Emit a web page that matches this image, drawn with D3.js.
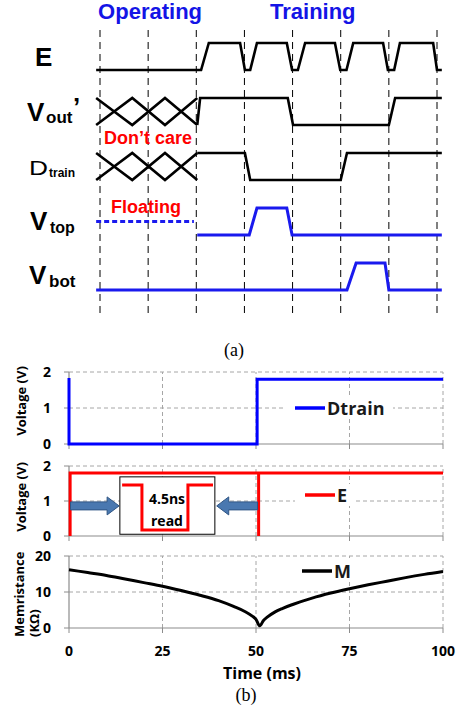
<!DOCTYPE html>
<html>
<head>
<meta charset="utf-8">
<script src="https://cdn.jsdelivr.net/npm/d3@7"></script>
<style>
  body { margin: 0; background: #fff; }
</style>
</head>
<body>
<script>
// ---------- (a) timing diagram data ----------
// time in clock periods (dashed guides sit on whole periods), level 0 = low, 1 = high
const clockEdges = [0, 1, 2, 3, 4, 5, 6, 7]
const phaseNames = ['Operating', 'Training']
const phaseCenters = [1.04, 4.42]

const waveE = [[-0.08, 0], [2.1, 0], [2.26, 1], [2.91, 1], [3.01, 0], [3.12, 0], [3.26, 1], [3.88, 1],
  [3.99, 0], [4.11, 0], [4.26, 1], [4.88, 1], [4.99, 0], [5.12, 0], [5.26, 1], [5.88, 1],
  [5.98, 0], [6.11, 0], [6.23, 1], [6.92, 1], [7.0, 0], [7.1, 0]]

// "don't care" crossings
const crossA = [[-0.08, 1], [0.67, 0], [1.35, 1], [2.02, 0]]
const crossB = [[-0.08, 0], [0.67, 1], [1.35, 0], [2.02, 1]]

const waveVout = [[2.02, 0], [2.08, 1], [3.9, 1], [4.01, 0], [6.0, 0], [6.13, 1], [7.1, 1]]
const waveDtrain = [[2.02, 1], [3.01, 1], [3.12, 0], [5.0, 0], [5.13, 1], [7.1, 1]]
const vtopFloating = [[-0.08, 0.5], [1.95, 0.5]]
const waveVtop = [[2.02, 0], [3.1, 0], [3.26, 1], [3.88, 1], [3.99, 0], [7.1, 0]]
const waveVbot = [[-0.08, 0], [5.13, 0], [5.32, 1], [5.92, 1], [6.0, 0], [7.1, 0]]

// ---------- (b) simulation data ----------
const timeTicks = [0, 25, 50, 75, 100]
const voltTicks = [0, 1, 2]
const memTicks = [0, 10, 20]

const dtrainT = [0, 0, 50.3, 50.3, 100]
const dtrainV = [1.83, 0, 0, 1.8, 1.8]

const eT = [0.3, 0.3, 50.7, 50.7, 50.7, 100]
const eV = [0, 1.8, 1.8, 0, 1.8, 1.8]

// zoomed read pulse drawn inside the inset box
const readT = [14.2, 19.5, 19.5, 31.8, 31.8, 38.5]
const readV = [1.46, 1.46, 0.17, 0.17, 1.46, 1.46]

const memT = [0, 5, 10, 15, 20, 25, 30, 35, 40, 44, 47, 49, 50, 51, 52, 53, 55, 57, 60, 65, 70, 75, 80, 85, 90, 95, 100]
const memV = [16.2, 15.4, 14.6, 13.6, 12.6, 11.6, 10.4, 9.1, 7.6, 6.0, 4.6, 3.3, 2.4, 0.6, 2.1, 3.0, 4.4, 5.4, 6.6, 8.3, 9.7, 10.9, 12.0, 13.0, 14.0, 14.9, 15.7]

const W = 460, H = 712
const svg = d3.select('body').append('svg')
  .attr('width', W).attr('height', H)
  .style('display', 'block')

svg.append('rect').attr('width', W).attr('height', H).attr('fill', '#fff')

const arial = 'Liberation Sans, Arial, sans-serif'
const calibri = 'Open Sans, Liberation Sans, sans-serif'

// ================= (a) =================
const tx = d3.scaleLinear().domain([0, 7]).range([100, 437])
const rowLow = [70, 125, 180, 235, 290]
const amp = 27
const rowY = i => d3.scaleLinear().domain([0, 1]).range([rowLow[i], rowLow[i] - amp])

// dashed clock guides
svg.append('g').selectAll('line')
  .data(clockEdges)
  .join('line')
  .attr('x1', d => tx(d)).attr('x2', d => tx(d))
  .attr('y1', 30).attr('y2', 318)
  .attr('stroke', '#000')
  .attr('stroke-width', 1)
  .attr('stroke-dasharray', '7,5')

// phase titles
svg.append('g').selectAll('text')
  .data(phaseNames)
  .join('text')
  .attr('x', (d, i) => tx(phaseCenters[i]))
  .attr('y', 19)
  .attr('text-anchor', 'middle')
  .attr('font-family', arial)
  .attr('font-weight', 'bold')
  .attr('font-size', '22px')
  .attr('fill', '#1414e6')
  .text(d => d)

function wave(data, row, color, width, dash) {
  const y = rowY(row)
  const line = d3.line().x(d => tx(d[0])).y(d => y(d[1]))
  svg.append('path')
    .datum(data)
    .attr('d', line)
    .attr('fill', 'none')
    .attr('stroke', color)
    .attr('stroke-width', width)
    .attr('stroke-linejoin', 'miter')
    .attr('stroke-dasharray', dash || null)
}

wave(waveE, 0, '#000', 2.6)
wave(crossA, 1, '#000', 2.6)
wave(crossB, 1, '#000', 2.6)
wave(waveVout, 1, '#000', 2.6)
wave(crossA, 2, '#000', 2.6)
wave(crossB, 2, '#000', 2.6)
wave(waveDtrain, 2, '#000', 2.6)
wave(vtopFloating, 3, '#1a1aee', 3, '5,3')
wave(waveVtop, 3, '#1a1aee', 3)
wave(waveVbot, 4, '#1a1aee', 3)

// signal labels
const lab = svg.append('g').attr('font-family', arial).attr('fill', '#000')
lab.append('text').attr('x', 35).attr('y', 66).attr('font-size', '26px').attr('font-weight', 'bold').text('E')

lab.append('text').attr('x', 27).attr('y', 121).attr('font-size', '26px').attr('font-weight', 'bold').text('V')
lab.append('text').attr('x', 46).attr('y', 123).attr('font-size', '17px').attr('font-weight', 'bold').text('out')
lab.append('text').attr('x', 73).attr('y', 116).attr('font-size', '26px').attr('font-weight', 'bold').text('\u2019')

lab.append('text').attr('x', 29).attr('y', 175).attr('font-size', '20px')
  .attr('textLength', 19).attr('lengthAdjust', 'spacingAndGlyphs').text('D')
lab.append('text').attr('x', 49).attr('y', 177).attr('font-size', '12px').attr('font-weight', 'bold').text('train')

lab.append('text').attr('x', 30).attr('y', 230).attr('font-size', '26px').attr('font-weight', 'bold').text('V')
lab.append('text').attr('x', 50).attr('y', 233).attr('font-size', '16px').attr('font-weight', 'bold').text('top')

lab.append('text').attr('x', 29).attr('y', 284).attr('font-size', '26px').attr('font-weight', 'bold').text('V')
lab.append('text').attr('x', 49).attr('y', 287).attr('font-size', '17px').attr('font-weight', 'bold').text('bot')

// red annotations
svg.append('text').attr('x', 148).attr('y', 144).attr('text-anchor', 'middle')
  .attr('font-family', arial).attr('font-weight', 'bold').attr('font-size', '18px')
  .attr('fill', '#ff0000').text('Don\u2019t care')
svg.append('text').attr('x', 146).attr('y', 213).attr('text-anchor', 'middle')
  .attr('font-family', arial).attr('font-weight', 'bold').attr('font-size', '18px')
  .attr('fill', '#ff0000').text('Floating')

svg.append('text').attr('x', 234).attr('y', 356).attr('text-anchor', 'middle')
  .attr('font-family', 'Liberation Serif, Times New Roman, serif').attr('font-size', '18px')
  .text('(a)')

// ================= (b) =================
const x = d3.scaleLinear().domain([0, 100]).range([69, 443])
const y1 = d3.scaleLinear().domain([0, 2]).range([444, 372])
const y2 = d3.scaleLinear().domain([0, 2]).range([536, 466])
const y3 = d3.scaleLinear().domain([0, 20]).range([628, 556])

function panel(y, ticks) {
  const g = svg.append('g')
  const top = d3.max(ticks)
  // dashed grid
  g.selectAll('.hg').data(ticks.filter(d => d > 0)).join('line')
    .attr('x1', x(0)).attr('x2', x(100))
    .attr('y1', d => y(d)).attr('y2', d => y(d))
    .attr('stroke', '#a6a6a6').attr('stroke-dasharray', '4,3')
  g.selectAll('.vg').data(timeTicks.filter(d => d > 0)).join('line')
    .attr('x1', d => x(d)).attr('x2', d => x(d))
    .attr('y1', y(0)).attr('y2', y(top))
    .attr('stroke', '#a6a6a6').attr('stroke-dasharray', '4,3')
  // axes
  g.append('line').attr('x1', x(0)).attr('x2', x(100)).attr('y1', y(0)).attr('y2', y(0))
    .attr('stroke', '#8c8c8c').attr('stroke-width', 1.2)
  g.append('line').attr('x1', x(0)).attr('x2', x(0)).attr('y1', y(0)).attr('y2', y(top))
    .attr('stroke', '#8c8c8c').attr('stroke-width', 1.2)
  g.selectAll('.yt').data(ticks).join('line')
    .attr('x1', x(0) - 5).attr('x2', x(0))
    .attr('y1', d => y(d)).attr('y2', d => y(d))
    .attr('stroke', '#8c8c8c')
  g.selectAll('.xt').data(timeTicks).join('line')
    .attr('x1', d => x(d)).attr('x2', d => x(d))
    .attr('y1', y(0)).attr('y2', y(0) + 5)
    .attr('stroke', '#8c8c8c')
  g.selectAll('.yl').data(ticks).join('text')
    .attr('x', 51).attr('y', d => y(d) + 5)
    .attr('text-anchor', 'end')
    .attr('font-family', calibri).attr('font-weight', 'bold').attr('font-size', '14px')
    .text(d => d)
  return g
}

function series(ts, vs, y, color) {
  const pts = ts.map((t, i) => [t, vs[i]])
  svg.append('path').datum(pts)
    .attr('d', d3.line().x(d => x(d[0])).y(d => y(d[1])))
    .attr('fill', 'none').attr('stroke', color).attr('stroke-width', 3)
}

function legend(cx0, cy, label, color, boxW) {
  svg.append('rect').attr('x', cx0 - 10).attr('y', cy - 11).attr('width', boxW).attr('height', 22).attr('fill', '#fff')
  svg.append('line').attr('x1', cx0).attr('x2', cx0 + 30).attr('y1', cy).attr('y2', cy)
    .attr('stroke', color).attr('stroke-width', 3.5)
  svg.append('text').attr('x', cx0 + 32).attr('y', cy + 6.5)
    .attr('font-family', calibri).attr('font-weight', 'bold').attr('font-size', '18px')
    .attr('fill', '#1a1a1a').text(label)
}

function yTitle(lines, cx, cy, anchor) {
  const t = svg.append('text')
    .attr('transform', `translate(${cx},${cy}) rotate(-90)`)
    .attr('text-anchor', anchor)
    .attr('font-family', calibri).attr('font-weight', 'bold').attr('font-size', '13px')
  lines.forEach((l, i) => t.append('tspan').attr('x', 0).attr('dy', i === 0 ? 0 : 15).text(l))
}

// panel 1: Dtrain
panel(y1, voltTicks)
legend(295, y1(1), 'Dtrain', '#0000ff', 108)
series(dtrainT, dtrainV, y1, '#0000ff')
yTitle(['Voltage (V)'], 26, 401, 'middle')

// panel 2: E
panel(y2, voltTicks)
legend(305, y2(1) - 6, 'E', '#ff0000', 58)
series(eT, eV, y2, '#ff0000')
yTitle(['Voltage (V)'], 26, 497, 'middle')

// inset with the zoomed read pulse
svg.append('rect')
  .attr('x', x(13.6)).attr('y', y2(1.69))
  .attr('width', x(39) - x(13.6)).attr('height', y2(0.05) - y2(1.69))
  .attr('fill', '#fff').attr('stroke', '#000').attr('stroke-width', 1)
series(readT, readV, y2, '#ff0000')
svg.append('text').attr('x', x(26.2)).attr('y', y2(1.09) + 6).attr('text-anchor', 'middle')
  .attr('font-family', calibri).attr('font-weight', 'bold').attr('font-size', '14px').text('4.5ns')
svg.append('text').attr('x', x(26.2)).attr('y', y2(0.46) + 6).attr('text-anchor', 'middle')
  .attr('font-family', calibri).attr('font-weight', 'bold').attr('font-size', '14px').text('read')

// block arrows pointing at the inset
function blockArrow(fromT, toT, v) {
  const x0 = x(fromT), x1 = x(toT), yc = y2(v)
  const dir = Math.sign(x1 - x0)
  const hb = x1 - dir * 12
  const pts = [[x0, yc - 4], [hb, yc - 4], [hb, yc - 9], [x1, yc], [hb, yc + 9], [hb, yc + 4], [x0, yc + 4]]
  svg.append('polygon').attr('points', pts.map(p => p.join(',')).join(' '))
    .attr('fill', '#4a78b0').attr('stroke', '#2f5584').attr('stroke-width', 1)
}
blockArrow(0.4, 13.4, 0.86)
blockArrow(50.4, 39.5, 0.86)

// panel 3: memristance
panel(y3, memTicks)
legend(302, 571, 'M', '#000', 60)
svg.append('path').datum(memT.map((t, i) => [t, memV[i]]))
  .attr('d', d3.line().x(d => x(d[0])).y(d => y3(d[1])).curve(d3.curveMonotoneX))
  .attr('fill', 'none').attr('stroke', '#000').attr('stroke-width', 3)
yTitle(['Memristance', '(K\u03a9)'], 24, 637, 'start')

svg.append('g').selectAll('text').data(timeTicks).join('text')
  .attr('x', d => x(d)).attr('y', 656)
  .attr('text-anchor', 'middle')
  .attr('font-family', calibri).attr('font-weight', 'bold').attr('font-size', '14px')
  .text(d => d)

svg.append('text').attr('x', 262).attr('y', 679).attr('text-anchor', 'middle')
  .attr('font-family', calibri).attr('font-weight', 'bold').attr('font-size', '16px')
  .text('Time (ms)')

svg.append('text').attr('x', 246).attr('y', 701).attr('text-anchor', 'middle')
  .attr('font-family', 'Liberation Serif, Times New Roman, serif').attr('font-size', '18px')
  .text('(b)')
</script>
</body>
</html>
